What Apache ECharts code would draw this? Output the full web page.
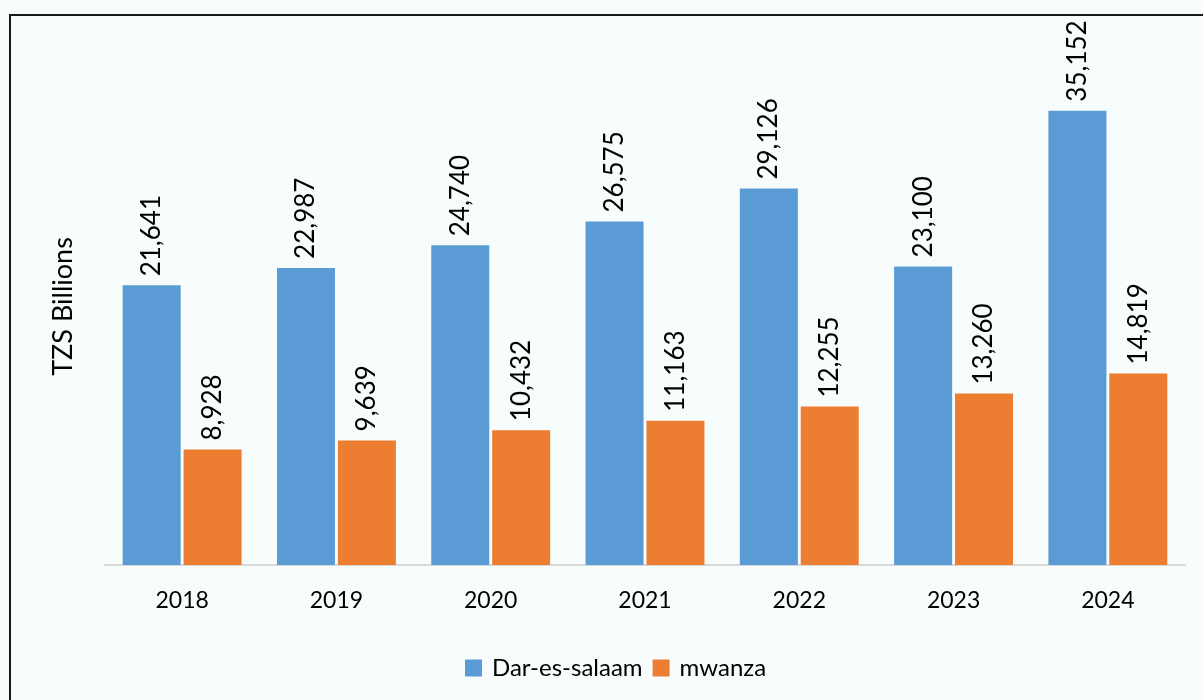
<!DOCTYPE html>
<html>
<head>
<meta charset="utf-8">
<script src="https://cdn.jsdelivr.net/npm/echarts@6/dist/echarts.min.js"></script>
<style>
  html, body { margin: 0; padding: 0; background: #f7fdfd; }
  #chart { width: 1203px; height: 700px; }
</style>
</head>
<body>
<div id="chart"></div>
<script>
const years = ['2018', '2019', '2020', '2021', '2022', '2023', '2024'];
const darEsSalaam = [21641, 22987, 24740, 26575, 29126, 23100, 35152];
const mwanza = [8928, 9639, 10432, 11163, 12255, 13260, 14819];

const font = "Lato, 'Open Sans', sans-serif";
const fmt = (p) => p.value.toLocaleString('en-US');

const barLabel = {
  show: true,
  position: 'top',
  rotate: 90,
  align: 'left',
  verticalAlign: 'middle',
  distance: 9,
  color: '#000',
  fontFamily: font,
  fontSize: 26,
  formatter: fmt
};

const chart = echarts.init(document.getElementById('chart'));
chart.setOption({
  backgroundColor: '#f7fdfd',
  animation: false,
  textStyle: { fontFamily: font },
  graphic: [
    {
      type: 'rect',
      shape: { x: 10, y: 15, width: 1400, height: 900 },
      style: { fill: 'transparent', stroke: '#1a1a1a', lineWidth: 2 },
      silent: true
    }
  ],
  grid: { left: 105, right: 18, top: 48, bottom: 135 },
  legend: {
    left: 460,
    top: 651,
    itemWidth: 17,
    itemHeight: 17,
    itemGap: 10,
    icon: 'rect',
    textStyle: { color: '#000', fontSize: 24, fontFamily: font, padding: [0, 0, 0, 5] },
    data: ['Dar-es-salaam', 'mwanza']
  },
  xAxis: {
    type: 'category',
    data: years,
    axisLine: { lineStyle: { color: '#d9d9d9', width: 2 } },
    axisTick: { show: false },
    axisLabel: { color: '#000', fontSize: 23, fontFamily: font, margin: 24 }
  },
  yAxis: {
    type: 'value',
    min: 0,
    max: 40000,
    name: 'TZS Billions',
    nameLocation: 'middle',
    nameRotate: 90,
    nameGap: 28,
    nameTextStyle: { color: '#000', fontSize: 27, fontFamily: font },
    axisLine: { show: false },
    axisTick: { show: false },
    axisLabel: { show: false },
    splitLine: { show: false }
  },
  series: [
    {
      name: 'Dar-es-salaam',
      type: 'bar',
      data: darEsSalaam,
      barWidth: 58,
      barGap: '5%',
      itemStyle: { color: '#5b9bd5' },
      label: barLabel
    },
    {
      name: 'mwanza',
      type: 'bar',
      data: mwanza,
      barWidth: 58,
      itemStyle: { color: '#ed7d31' },
      label: barLabel
    }
  ]
});
</script>
</body>
</html>
